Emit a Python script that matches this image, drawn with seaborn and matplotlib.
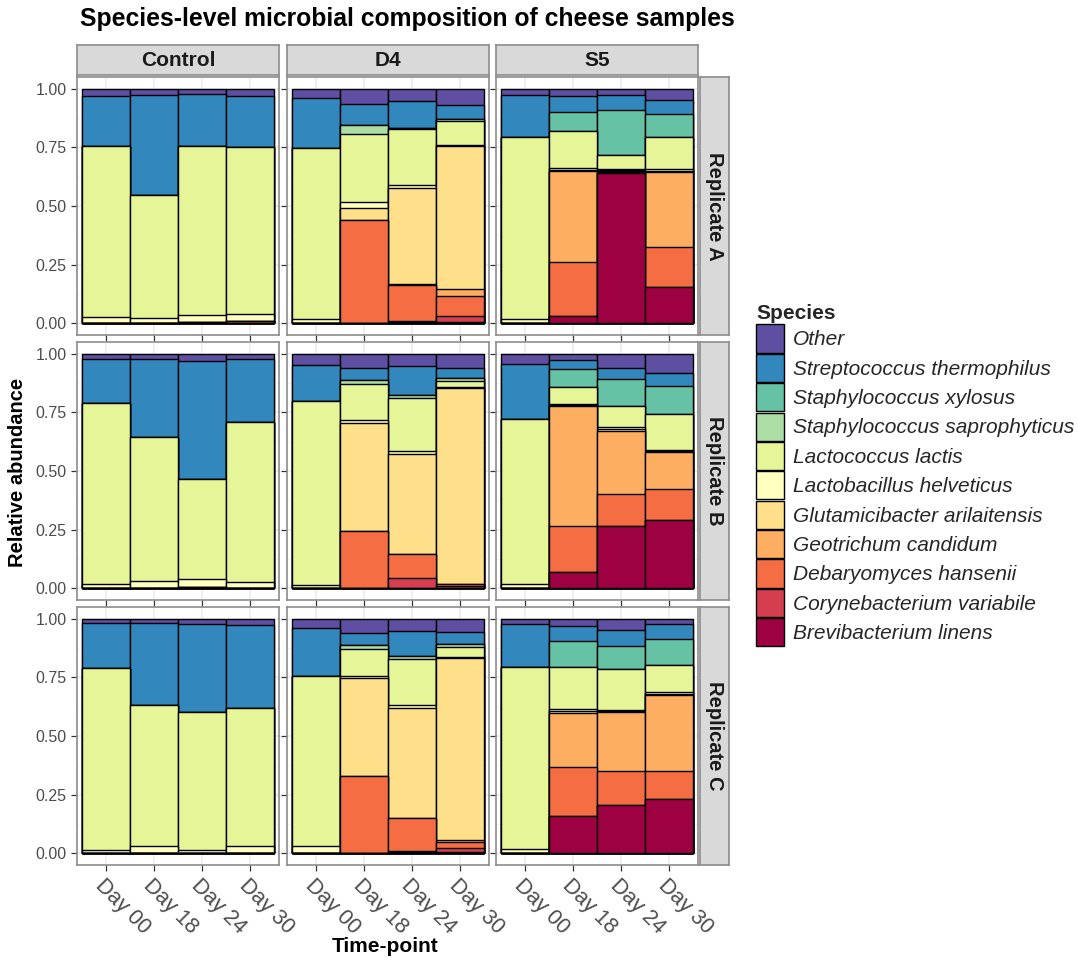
import numpy as np
import pandas as pd
import matplotlib
matplotlib.use("Agg")
import matplotlib.pyplot as plt
import seaborn as sns
from matplotlib.patches import Patch

# ---------------- data ----------------
# species listed bottom -> top of each stacked bar
species = ["Brevibacterium linens", "Corynebacterium variabile", "Debaryomyces hansenii",
           "Geotrichum candidum", "Glutamicibacter arilaitensis", "Lactobacillus helveticus",
           "Lactococcus lactis", "Staphylococcus saprophyticus", "Staphylococcus xylosus",
           "Streptococcus thermophilus", "Other"]
colors = ["#9E0142", "#D53E4F", "#F46D43", "#FDAE61", "#FEE08B", "#FFFFBF",
          "#E6F598", "#ABDDA4", "#66C2A5", "#3288BD", "#5E4FA2"]
days = ["Day 00", "Day 18", "Day 24", "Day 30"]
groups = ["Control", "D4", "S5"]
replicates = ["Replicate A", "Replicate B", "Replicate C"]

# each panel: one list per day, values in species order (bottom -> top)
control_A = [[0, 0, 0, 0, 0, 0.025, 0.732, 0, 0, 0.213, 0.030],
             [0, 0, 0, 0, 0, 0.024, 0.522, 0, 0, 0.428, 0.026],
             [0, 0, 0.005, 0, 0, 0.029, 0.722, 0, 0, 0.221, 0.023],
             [0.003, 0, 0.007, 0, 0, 0.031, 0.712, 0, 0, 0.218, 0.029]]
d4_A = [[0, 0, 0, 0, 0, 0.017, 0.729, 0, 0, 0.214, 0.040],
        [0, 0, 0.441, 0, 0.052, 0.024, 0.292, 0.037, 0, 0.088, 0.066],
        [0.004, 0.004, 0.156, 0.005, 0.408, 0.014, 0.236, 0.006, 0, 0.113, 0.054],
        [0.004, 0.025, 0.088, 0.029, 0.610, 0.006, 0.102, 0.006, 0, 0.061, 0.069]]
s5_A = [[0, 0, 0, 0, 0, 0.017, 0.777, 0, 0, 0.180, 0.026],
        [0.031, 0, 0.232, 0.386, 0.006, 0.005, 0.160, 0, 0.080, 0.071, 0.029],
        [0.639, 0, 0.004, 0.006, 0.004, 0.003, 0.061, 0, 0.193, 0.064, 0.026],
        [0.156, 0, 0.171, 0.319, 0.005, 0.005, 0.140, 0, 0.095, 0.062, 0.047]]
control_B = [[0, 0, 0, 0, 0, 0.019, 0.771, 0, 0, 0.189, 0.021],
             [0, 0, 0, 0, 0, 0.033, 0.610, 0, 0, 0.333, 0.024],
             [0, 0, 0.006, 0, 0, 0.033, 0.425, 0, 0, 0.507, 0.029],
             [0, 0, 0, 0, 0, 0.026, 0.681, 0, 0, 0.272, 0.021]]
d4_B = [[0, 0, 0, 0, 0, 0.014, 0.786, 0, 0, 0.153, 0.047],
        [0, 0, 0.246, 0, 0.457, 0.014, 0.154, 0.019, 0, 0.049, 0.061],
        [0, 0.043, 0.103, 0, 0.425, 0.015, 0.224, 0.014, 0, 0.123, 0.053],
        [0, 0.010, 0.007, 0, 0.837, 0.004, 0.025, 0.014, 0, 0.042, 0.061]]
s5_B = [[0, 0, 0, 0, 0, 0.019, 0.702, 0, 0, 0.236, 0.043],
        [0.069, 0, 0.198, 0.512, 0.004, 0.003, 0.071, 0, 0.076, 0.041, 0.026],
        [0.267, 0, 0.133, 0.271, 0.008, 0.007, 0.093, 0, 0.114, 0.046, 0.061],
        [0.293, 0, 0.131, 0.155, 0.005, 0.005, 0.154, 0, 0.118, 0.056, 0.083]]
control_C = [[0, 0, 0, 0, 0, 0.014, 0.777, 0, 0, 0.190, 0.019],
             [0, 0, 0, 0, 0, 0.033, 0.598, 0, 0, 0.350, 0.019],
             [0, 0, 0, 0, 0, 0.014, 0.589, 0, 0, 0.376, 0.021],
             [0, 0, 0, 0, 0, 0.029, 0.591, 0, 0, 0.354, 0.026]]
d4_C = [[0, 0, 0, 0, 0, 0.029, 0.725, 0, 0, 0.206, 0.040],
        [0, 0, 0.331, 0, 0.418, 0.005, 0.117, 0.018, 0, 0.051, 0.060],
        [0.005, 0.005, 0.140, 0, 0.471, 0.012, 0.196, 0.011, 0, 0.106, 0.054],
        [0.007, 0.014, 0.026, 0.008, 0.776, 0.004, 0.046, 0.012, 0, 0.050, 0.057]]
s5_C = [[0, 0, 0, 0, 0, 0.019, 0.774, 0, 0, 0.186, 0.021],
        [0.160, 0, 0.209, 0.231, 0.006, 0.008, 0.179, 0, 0.114, 0.062, 0.031],
        [0.204, 0, 0.146, 0.253, 0.004, 0.004, 0.175, 0, 0.097, 0.067, 0.050],
        [0.231, 0, 0.119, 0.324, 0.006, 0.006, 0.117, 0, 0.111, 0.062, 0.024]]

y_ticks = [0.00, 0.25, 0.50, 0.75, 1.00]
y_tick_labels = ["0.00", "0.25", "0.50", "0.75", "1.00"]

panels = {
    ("Control", "Replicate A"): control_A, ("D4", "Replicate A"): d4_A, ("S5", "Replicate A"): s5_A,
    ("Control", "Replicate B"): control_B, ("D4", "Replicate B"): d4_B, ("S5", "Replicate B"): s5_B,
    ("Control", "Replicate C"): control_C, ("D4", "Replicate C"): d4_C, ("S5", "Replicate C"): s5_C,
}

# ---------------- style ----------------
sns.set_theme(style="white")
plt.rcParams["font.family"] = ["Liberation Sans", "DejaVu Sans"]

W, H = 1078, 967
fig = plt.figure(figsize=(W / 100, H / 100), dpi=100)
fig.patch.set_facecolor("white")


def frac(l, t, w, h):
    return [l / W, 1 - (t + h) / H, w / W, h / H]


col_left = [77, 287, 496]
row_top = [77, 342, 607]
pw, ph = 202, 258
border = "#8C8C8C"
strip_fill = "#D9D9D9"
tick_col = "#4D4D4D"

for r, rep in enumerate(replicates):
    for c, grp in enumerate(groups):
        ax = fig.add_axes(frac(col_left[c], row_top[r], pw, ph))
        vals = np.array(panels[(grp, rep)])
        cum = vals.cumsum(axis=1)
        for k in range(len(species) - 1, -1, -1):
            df = pd.DataFrame({"day": days, "cum": cum[:, k]})
            sns.barplot(data=df, x="day", y="cum", order=days, color=colors[k],
                        saturation=1, width=1.0, edgecolor="black", linewidth=1.0,
                        errorbar=None, ax=ax, zorder=2)
        ax.set_xlim(-0.6, 3.6)
        ax.set_ylim(-0.05, 1.05)
        ax.set_facecolor("white")
        ax.set_axisbelow(True)
        ax.set_yticks(y_ticks)
        ax.set_yticks([0.125, 0.375, 0.625, 0.875], minor=True)
        ax.set_xticks(range(len(days)))
        ax.grid(which="major", color="#EBEBEB", linewidth=1.1)
        ax.grid(which="minor", axis="y", color="#F2F2F2", linewidth=0.6)
        ax.set_xlabel("")
        ax.set_ylabel("")
        for s in ax.spines.values():
            s.set_color(border)
            s.set_linewidth(1.2)
        ax.tick_params(axis="both", which="major", length=4, width=0.9, color="#333333",
                       direction="out", left=True, bottom=True)
        ax.tick_params(which="minor", length=0)
        if c == 0:
            ax.set_yticklabels(y_tick_labels, fontsize=11.5, color=tick_col)
        else:
            ax.set_yticklabels([])
        if r == len(replicates) - 1:
            ax.set_xticklabels(days, fontsize=15.5, color=tick_col, rotation=-45,
                               ha="left", va="top", rotation_mode="anchor")
        else:
            ax.set_xticklabels([])

        # top strips
        if r == 0:
            sax = fig.add_axes(frac(col_left[c], 45, pw, 30))
            sax.set_facecolor(strip_fill)
            sax.set_xticks([]); sax.set_yticks([])
            for s in sax.spines.values():
                s.set_color(border); s.set_linewidth(1.2)
            sax.text(0.5, 0.5, grp, ha="center", va="center", fontsize=15,
                     fontweight="bold", color="#1A1A1A", transform=sax.transAxes)
    # right strips
    rax = fig.add_axes(frac(700, row_top[r], 29, ph))
    rax.set_facecolor(strip_fill)
    rax.set_xticks([]); rax.set_yticks([])
    for s in rax.spines.values():
        s.set_color(border); s.set_linewidth(1.2)
    rax.text(0.5, 0.5, rep, ha="center", va="center", rotation=-90, fontsize=14.5,
             fontweight="bold", color="#1A1A1A", transform=rax.transAxes)

# titles / labels
fig.text(80 / W, 1 - 7 / H, "Species-level microbial composition of cheese samples",
         ha="left", va="top", fontsize=17.8, fontweight="bold", color="black")
fig.text(18 / W, 1 - 472 / H, "Relative abundance", rotation=90, ha="center", va="center",
         fontsize=14.5, fontweight="bold", color="black")
fig.text(385 / W, 1 - 946 / H, "Time-point", ha="center", va="center",
         fontsize=15, fontweight="bold", color="black")

# legend
handles = [Patch(facecolor=colors[k], edgecolor="black", linewidth=1.0)
           for k in range(len(species) - 1, -1, -1)]
labels = [species[k] for k in range(len(species) - 1, -1, -1)]
leg = fig.legend(handles, labels, loc="upper left", bbox_to_anchor=(752 / W, 1 - 300 / H),
                 frameon=False, prop={"style": "italic", "size": 15},
                 title="Species", title_fontproperties={"weight": "bold", "size": 15},
                 handlelength=1.35, handleheight=1.7, labelspacing=0.06,
                 handletextpad=0.4, borderaxespad=0, borderpad=0.2, alignment="left")

fig.savefig("out.png", dpi=100, facecolor="white")
